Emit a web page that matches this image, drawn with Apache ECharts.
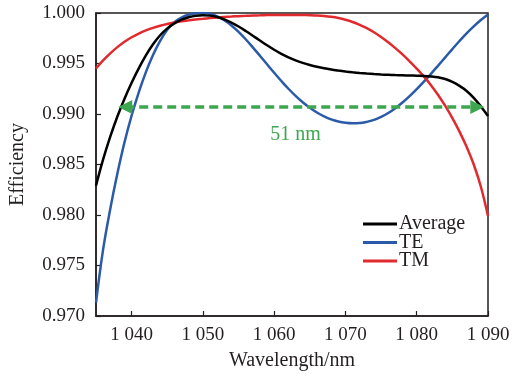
<!DOCTYPE html>
<html>
<head>
<meta charset="utf-8">
<script src="https://cdn.jsdelivr.net/npm/echarts@6/dist/echarts.min.js"></script>
<style>html,body{margin:0;padding:0;background:#fff}#c{width:514px;height:376px}</style>
</head>
<body>
<div id="c"></div>
<script>
// ---- data ----
var wavelengths = [1035,1036,1037,1038,1039,1040,1041,1042,1043,1044,1045,1046,1047,1048,1049,1050,1051,1052,1053,1054,1055,1056,1057,1058,1059,1060,1061,1062,1063,1064,1065,1066,1067,1068,1069,1070,1071,1072,1073,1074,1075,1076,1077,1078,1079,1080,1081,1082,1083,1084,1085,1086,1087,1088,1089,1090];
var average = [0.98290,0.98550,0.98775,0.98975,0.99152,0.99310,0.99452,0.99580,0.99690,0.99780,0.99848,0.99897,0.99934,0.99958,0.99973,0.99978,0.99974,0.99960,0.99937,0.99905,0.99866,0.99822,0.99775,0.99727,0.99680,0.99636,0.99596,0.99561,0.99531,0.99506,0.99485,0.99467,0.99452,0.99440,0.99430,0.99421,0.99413,0.99406,0.99400,0.99395,0.99391,0.99388,0.99385,0.99383,0.99381,0.99379,0.99377,0.99372,0.99363,0.99347,0.99318,0.99278,0.99228,0.99160,0.99075,0.98980];
var te = [0.97130,0.97660,0.98060,0.98410,0.98720,0.98985,0.99215,0.99415,0.99585,0.99725,0.99835,0.99910,0.99955,0.99982,0.99997,1.00000,0.99993,0.99967,0.99928,0.99877,0.99813,0.99740,0.99660,0.99577,0.99492,0.99408,0.99327,0.99250,0.99180,0.99117,0.99062,0.99015,0.98977,0.98947,0.98926,0.98913,0.98908,0.98910,0.98922,0.98942,0.98972,0.99010,0.99058,0.99114,0.99177,0.99246,0.99320,0.99398,0.99479,0.99561,0.99643,0.99723,0.99799,0.99868,0.99930,0.99985];
var tm = [0.99450,0.99530,0.99600,0.99662,0.99715,0.99760,0.99797,0.99828,0.99853,0.99874,0.99891,0.99905,0.99917,0.99927,0.99936,0.99943,0.99950,0.99956,0.99961,0.99965,0.99969,0.99972,0.99975,0.99977,0.99979,0.99980,0.99981,0.99981,0.99981,0.99980,0.99978,0.99975,0.99970,0.99962,0.99950,0.99933,0.99911,0.99883,0.99850,0.99810,0.99763,0.99710,0.99652,0.99590,0.99522,0.99450,0.99372,0.99285,0.99188,0.99080,0.98960,0.98826,0.98675,0.98500,0.98280,0.97990];
var seriesNames = ['Average','TE','TM'];
var xTicks = [1040,1050,1060,1070,1080,1090];
var yTicks = [0.970,0.975,0.980,0.985,0.990,0.995,1.000];
var bandStart = 1039.1, bandEnd = 1088.5, bandLevel = 0.9907;
var bandLabel = '51 nm', bandLabelPos = [1063, 0.98795];

// ---- chart ----
var FONT = 'Liberation Serif';
var TXT = '#231f20';
function pairs(ys){ return wavelengths.map(function(x,i){ return [x, ys[i]]; }); }
var chart = echarts.init(document.getElementById('c'), null, {renderer:'canvas'});
var lineW = 2.5, SM = 0.4;
chart.setOption({
  animation:false,
  backgroundColor:'#fff',
  grid:{left:95, right:26, top:13, bottom:56, show:true, borderColor:'#231f20', borderWidth:1.5, backgroundColor:'transparent'},
  xAxis:{
    type:'value', min:1035, max:1090, splitNumber:5,
    name:'Wavelength/nm', nameLocation:'middle', nameGap:35,
    nameTextStyle:{fontFamily:FONT, fontSize:20, color:TXT},
    axisLine:{show:true, onZero:false, lineStyle:{color:'#231f20', width:1.5}},
    axisTick:{show:true, inside:true, length:5, lineStyle:{color:'#231f20', width:1.2}},
    splitLine:{show:false},
    axisLabel:{show:true, margin:10, fontFamily:FONT, fontSize:19, color:TXT, showMinLabel:false,
      formatter:function(v){ if (xTicks.indexOf(v) < 0) return ''; var s=String(v); return s.charAt(0)+' '+s.slice(1); }}
  },
  yAxis:{
    type:'value', min:0.970, max:1.000, interval:0.005,
    name:'Efficiency', nameLocation:'middle', nameGap:68, nameRotate:90,
    nameTextStyle:{fontFamily:FONT, fontSize:20, color:TXT},
    axisLine:{show:true, onZero:false, lineStyle:{color:'#231f20', width:1.5}},
    axisTick:{show:true, inside:true, length:5, lineStyle:{color:'#231f20', width:1.2}},
    splitLine:{show:false},
    axisLabel:{margin:11, fontFamily:FONT, fontSize:19, color:TXT, formatter:function(v){ return v.toFixed(3); }}
  },
  legend:{
    data:seriesNames, orient:'vertical', left:358, top:209, icon:'rect', itemWidth:34, itemHeight:3, itemGap:-1.5,
    textStyle:{fontFamily:FONT, fontSize:20, color:TXT, lineHeight:19, padding:[0,0,0,-3]}
  },
  series:[
    {name:seriesNames[0], type:'line', data:pairs(average), smooth:SM, showSymbol:false, color:'#000000', lineStyle:{width:lineW, color:'#000000'}, z:3,
     markLine:{silent:true, symbol:['triangle','triangle'], symbolSize:[14,14],
       lineStyle:{type:[9,5], width:3.5, color:'#3ea64e'}, label:{show:false},
       data:[[{coord:[bandStart, bandLevel]},{coord:[bandEnd, bandLevel]}]]},
     markPoint:{silent:true, symbol:'circle', symbolSize:0,
       label:{show:true, formatter:bandLabel, fontFamily:FONT, fontSize:20, color:'#3ea64e', position:'inside'},
       data:[{coord:bandLabelPos}]}
    },
    {name:seriesNames[1], type:'line', data:pairs(te), smooth:SM, showSymbol:false, color:'#2a5aa8', lineStyle:{width:lineW, color:'#2a5aa8'}, z:2},
    {name:seriesNames[2], type:'line', data:pairs(tm), smooth:SM, showSymbol:false, color:'#e12a2e', lineStyle:{width:lineW, color:'#e12a2e'}, z:2}
  ]
});
</script>
</body>
</html>
